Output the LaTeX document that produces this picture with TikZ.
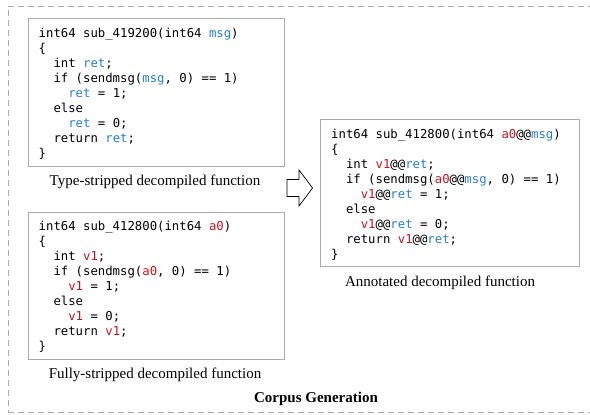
\documentclass[tikz,border=0pt]{standalone}
\usepackage{fontspec}
\setmainfont{Liberation Serif}
\setmonofont{DejaVu Sans Mono}
\definecolor{cblue}{RGB}{38,125,205}
\definecolor{cred}{RGB}{200,20,30}
\definecolor{bordergray}{RGB}{170,170,170}
\newcommand{\bv}[1]{\textcolor{cblue}{#1}}
\newcommand{\rv}[1]{\textcolor{cred}{#1}}
\newcommand{\ind}{\hphantom{xx}}
\begin{document}
\begin{tikzpicture}[x=1pt,y=-1pt,
  codebox/.style={draw=bordergray,line width=0.8pt,anchor=north west,inner sep=0pt},
  codetext/.style={anchor=north west,align=left,inner sep=0pt,font=\fontsize{12.3}{15}\ttfamily},
  caption/.style={font=\fontsize{15}{17}\selectfont},
  blockarrow/.style={draw=black,line width=0.7pt,fill=white,line join=miter},
]
\useasboundingbox (0,0) rectangle (590,415);
\node[draw=bordergray,dash pattern=on 6pt off 4pt,line width=0.8pt,anchor=north west,minimum width=600pt,minimum height=406pt,inner sep=0pt] (frame) at (8,6) {};

\node[codebox,minimum width=256pt,minimum height=148pt] (box1) at (28,18) {};
\node[codetext] (code1) at (38.5,28) {int64 sub\_419200(int64 \bv{msg})\\
\{\\
\ind int \bv{ret};\\
\ind if (sendmsg(\bv{msg}, 0) == 1)\\
\ind\ind \bv{ret} = 1;\\
\ind else\\
\ind\ind \bv{ret} = 0;\\
\ind return \bv{ret};\\
\}};
\node[caption] (cap1) at (155,182) {Type-stripped decompiled function};

\node[codebox,minimum width=256pt,minimum height=147pt] (box2) at (28,212) {};
\node[codetext] (code2) at (38.5,221) {int64 sub\_412800(int64 \rv{a0})\\
\{\\
\ind int \rv{v1};\\
\ind if (sendmsg(\rv{a0}, 0) == 1)\\
\ind\ind \rv{v1} = 1;\\
\ind else\\
\ind\ind \rv{v1} = 0;\\
\ind return \rv{v1};\\
\}};
\node[caption] (cap2) at (155,375) {Fully-stripped decompiled function};

\node[codebox,minimum width=259pt,minimum height=147pt] (box3) at (320,119) {};
\node[codetext] (code3) at (331,129) {int64 sub\_412800(int64 \rv{a0}@@\bv{msg})\\
\{\\
\ind int \rv{v1}@@\bv{ret};\\
\ind if (sendmsg(\rv{a0}@@\bv{msg}, 0) == 1)\\
\ind\ind \rv{v1}@@\bv{ret} = 1;\\
\ind else\\
\ind\ind \rv{v1}@@\bv{ret} = 0;\\
\ind return \rv{v1}@@\bv{ret};\\
\}};
\node[caption] (cap3) at (440,283) {Annotated decompiled function};

\draw[blockarrow] (287,179.5) -- (299,179.5) -- (299,170) -- (312.5,188) -- (299,206) -- (299,196.5) -- (287,196.5) -- cycle;

\node[font=\fontsize{15}{17}\selectfont\bfseries] (title) at (316,399) {Corpus Generation};
\end{tikzpicture}
\end{document}
